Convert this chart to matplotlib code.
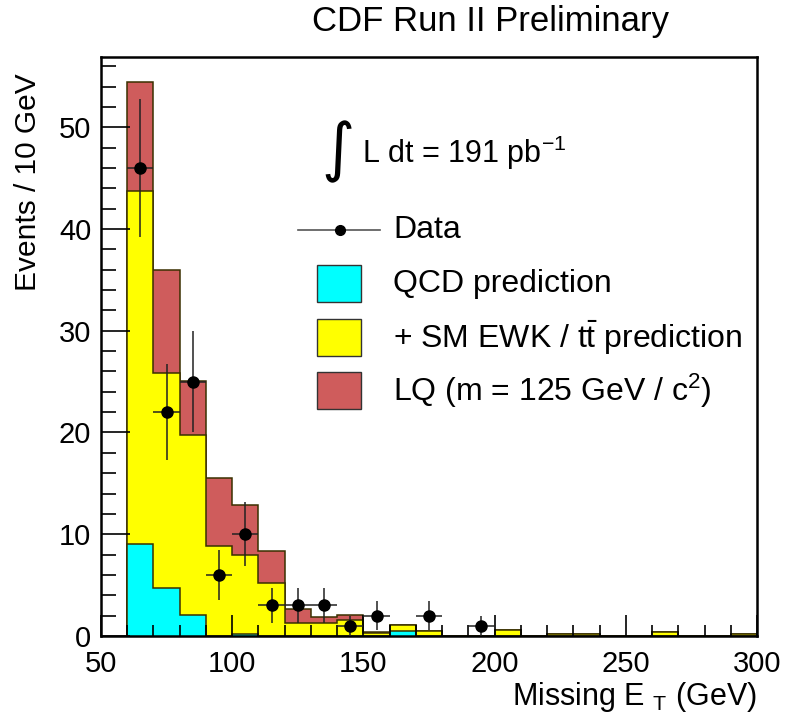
import numpy as np
import matplotlib
matplotlib.use("Agg")
import matplotlib.pyplot as plt
from matplotlib.patches import Rectangle
from matplotlib.lines import Line2D
from matplotlib.ticker import MultipleLocator

plt.rcParams['font.family'] = ['Liberation Sans', 'DejaVu Sans']
plt.rcParams['mathtext.fontset'] = 'custom'
plt.rcParams['mathtext.rm'] = 'Liberation Sans'
plt.rcParams['mathtext.it'] = 'Liberation Sans:italic'

# ---- data ----
bin_edges = np.arange(60, 301, 10)
qcd = [9.0, 4.7, 2.1, 0, 0.2, 0, 0, 0, 0, 0, 0.45, 0,
       0, 0, 0, 0, 0, 0, 0, 0, 0, 0, 0, 0]
ewk = [34.7, 21.1, 17.7, 8.8, 7.8, 5.2, 1.25, 1.25, 1.6, 0.3, 0.6, 0.45,
       0, 0, 0.6, 0, 0.15, 0.15, 0, 0, 0.4, 0, 0, 0.15]
lq = [10.7, 10.2, 5.3, 6.7, 4.9, 3.15, 1.45, 0.65, 0.5, 0.1, 0, 0,
      0, 0, 0, 0, 0.05, 0.05, 0, 0, 0, 0, 0, 0.05]
data_x = [65, 75, 85, 95, 105, 115, 125, 135, 145, 155, 175, 195]
data_y = [46, 22, 25, 6, 10, 3, 3, 3, 1, 2, 2, 1]

title = "CDF Run II Preliminary"
labels = ["Data", "QCD prediction",
          r"+ SM EWK / $\mathrm{t}\bar{\mathrm{t}}$ prediction",
          r"LQ (m = 125 GeV / c$^{2}$)"]

col_qcd = "#00FFFF"
col_ewk = "#FFFF00"
col_lq = "#CF5C5C"
edge = "#3a3000"

W, H = 790, 713
fig = plt.figure(figsize=(W / 100, H / 100), dpi=100)
ax = fig.add_axes([101 / W, 1 - 636 / H, (757 - 101) / W, (636 - 57) / H])

lvl1 = np.array(qcd)
lvl2 = lvl1 + np.array(ewk)
lvl3 = lvl2 + np.array(lq)

for lvl, c in [(lvl3, col_lq), (lvl2, col_ewk), (lvl1, col_qcd)]:
    ax.stairs(lvl, bin_edges, fill=True, facecolor=c, edgecolor='none', baseline=0)
    ax.stairs(lvl, bin_edges, fill=False, edgecolor=edge, linewidth=1.1, baseline=0)

dy = np.sqrt(np.array(data_y, dtype=float))
ax.errorbar(data_x, data_y, yerr=dy, xerr=5, fmt='o', color='black',
            ecolor='#222222', elinewidth=1.1, markersize=8, capsize=0, zorder=5)

ax.set_xlim(50, 300)
ax.set_ylim(0, 56.9)
ax.xaxis.set_major_locator(MultipleLocator(50))
ax.xaxis.set_minor_locator(MultipleLocator(10))
ax.yaxis.set_major_locator(MultipleLocator(10))
ax.yaxis.set_minor_locator(MultipleLocator(2))
ax.tick_params(axis='x', which='major', direction='in', length=15, width=1.2,
               labelsize=21, pad=10, top=False)
ax.tick_params(axis='x', which='minor', direction='in', length=8, width=1.2, top=False)
ax.tick_params(axis='y', which='major', direction='in', length=21, width=1.2,
               labelsize=21, pad=7, right=False)
ax.tick_params(axis='y', which='minor', direction='in', length=11, width=1.2, right=False)
for s in ax.spines.values():
    s.set_linewidth(1.8)

# titles / labels
fig.text(491 / W, 1 - 22 / H, title, fontsize=25, ha='center', va='center')
fig.text(28 / W, 1 - 73 / H, "Events / 10 GeV", fontsize=21.5, rotation=90,
         ha='center', va='top')
fig.text(757 / W, 1 - 705 / H, r"Missing E $_{\mathrm{T}}$ (GeV)", fontsize=22,
         ha='right', va='baseline')

# luminosity
fig.text(338 / W, 1 - 152 / H, "\u222b", fontsize=46, ha='center', va='center',
         family='DejaVu Sans')
fig.text(362 / W, 1 - 153 / H, r"L dt = 191 pb$^{\mathrm{-1}}$", fontsize=22,
         ha='left', va='center')

# legend (manual)
fig.add_artist(Line2D([298 / W, 380 / W], [1 - 230 / H, 1 - 230 / H],
                      color='#555555', linewidth=1.2))
fig.add_artist(Line2D([340 / W], [1 - 230 / H], marker='o', color='black',
                      markersize=7))
fig.text(393 / W, 1 - 230 / H, labels[0], fontsize=23, ha='left', va='center')
boxes = [(265, col_qcd, labels[1]), (319, col_ewk, labels[2]), (372, col_lq, labels[3])]
for ytop, c, lab in boxes:
    fig.add_artist(Rectangle((317 / W, 1 - (ytop + 37) / H), 44 / W, 37 / H,
                             facecolor=c, edgecolor='#333333', linewidth=1.0,
                             transform=fig.transFigure))
    fig.text(393 / W, 1 - (ytop + 19) / H, lab, fontsize=23, ha='left', va='center')

fig.savefig("out.png", dpi=100)
